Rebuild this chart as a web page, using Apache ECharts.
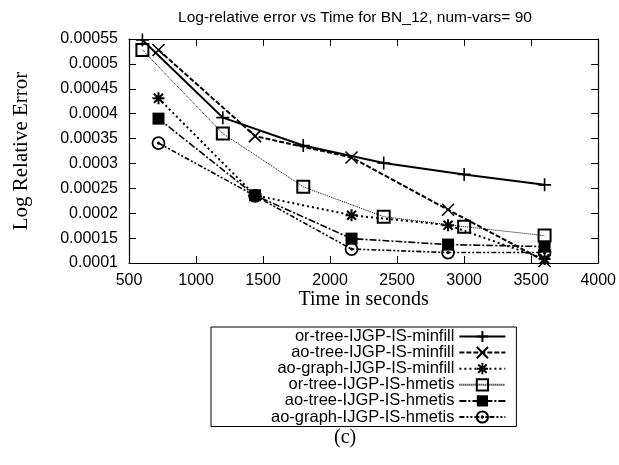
<!DOCTYPE html>
<html>
<head>
<meta charset="utf-8">
<script src="https://cdn.jsdelivr.net/npm/echarts@6/dist/echarts.min.js"></script>
<style>
html,body{margin:0;padding:0;background:#fff;}
#chart{width:619px;height:465px;}
</style>
</head>
<body>
<div id="chart"></div>
<script>
// ---- data ----
const titleText = 'Log-relative error vs Time for BN_12, num-vars= 90';
const seriesNames = [
  'or-tree-IJGP-IS-minfill',
  'ao-tree-IJGP-IS-minfill',
  'ao-graph-IJGP-IS-minfill',
  'or-tree-IJGP-IS-hmetis',
  'ao-tree-IJGP-IS-hmetis',
  'ao-graph-IJGP-IS-hmetis'
];
const timesOr = [600, 1200, 1800, 2400, 3000, 3600];
const timesAo = [720, 1440, 2160, 2880, 3600];
const orTreeMinfill  = [0.000548, 0.000392, 0.000336, 0.000301, 0.000278, 0.000257];
const aoTreeMinfill  = [0.000528, 0.000355, 0.000312, 0.000207, 0.000104];
const aoGraphMinfill = [0.000431, 0.000236, 0.000196, 0.000176, 0.000108];
const orTreeHmetis   = [0.000528, 0.000360, 0.000253, 0.000193, 0.000173, 0.000155];
const aoTreeHmetis   = [0.000390, 0.000236, 0.000149, 0.000137, 0.000133];
const aoGraphHmetis  = [0.000341, 0.000235, 0.000128, 0.000121, 0.000121];
const xTicks = [500, 1000, 1500, 2000, 2500, 3000, 3500, 4000];
const yTicks = ['0.0001','0.00015','0.0002','0.00025','0.0003','0.00035','0.0004','0.00045','0.0005','0.00055'];

function pairs(xs, ys){ return xs.map((x,i)=>[x, ys[i]]); }

const PLUS = 'path://M0,-1L0,1M-1,0L1,0';
const CROSS = 'path://M-1,-1L1,1M-1,1L1,-1';
const STAR = 'path://M0,-1L0,1M-1,0L1,0M-0.75,-0.75L0.75,0.75M-0.75,0.75L0.75,-0.75';
const CIRCDOT = 'path://M1,0A1,1 0 1,1 -1,0A1,1 0 1,1 1,0ZM0.12,0A0.12,0.12 0 1,1 -0.12,0A0.12,0.12 0 1,1 0.12,0Z';

const sansFont = 'Liberation Sans';
const serifFont = 'Liberation Serif';

function mk(name, xs, ys, symbol, size, lineType, lineWidth, itemStyle){
  return {
    name: name,
    type: 'line',
    xAxisIndex: 0, yAxisIndex: 0,
    data: pairs(xs, ys),
    symbol: symbol,
    symbolSize: size,
    showAllSymbol: true,
    animation: false,
    lineStyle: {color: '#000', width: lineWidth, type: lineType},
    itemStyle: itemStyle,
    emphasis: {disabled: true},
    z: 3
  };
}

const strokeOnly = {color: 'rgba(0,0,0,0)', borderColor: '#000', borderWidth: 1.6};

const series = [
  mk(seriesNames[0], timesOr, orTreeMinfill, PLUS, 13, 'solid', 2, strokeOnly),
  mk(seriesNames[1], timesAo, aoTreeMinfill, CROSS, 12, [5, 2], 2, strokeOnly),
  mk(seriesNames[2], timesAo, aoGraphMinfill, STAR, 12, [2, 3], 2, {color:'rgba(0,0,0,0)', borderColor:'#000', borderWidth: 2}),
  mk(seriesNames[3], timesOr, orTreeHmetis, 'rect', 12, [1, 1], 1, {color:'rgba(0,0,0,0)', borderColor:'#000', borderWidth: 2}),
  mk(seriesNames[4], timesAo, aoTreeHmetis, 'rect', 12, [7, 2, 2, 2], 1.6, {color:'#000', borderColor:'#000', borderWidth: 0}),
  mk(seriesNames[5], timesAo, aoGraphHmetis, CIRCDOT, 12, [5, 2, 2, 2, 2, 2], 1.6, {color:'rgba(0,0,0,0)', borderColor:'#000', borderWidth: 1.8})
];

const chart = echarts.init(document.getElementById('chart'), null, {renderer: 'canvas'});
const xMin = xTicks[0], xMax = xTicks[xTicks.length-1];
const yMin = parseFloat(yTicks[0]), yMax = parseFloat(yTicks[yTicks.length-1]);
const yStep = 0.00005;
function fmtY(v){ return String(parseFloat(v.toPrecision(6))); }
function fmtX(v){ return String(Math.round(v)); }

const baseAxisLine = {show: true, lineStyle: {color: '#000', width: 1.2}};
const tick = {show: true, inside: true, length: 7, lineStyle: {color: '#000', width: 1}};

chart.setOption({
  backgroundColor: '#fff',
  animation: false,
  title: {
    text: titleText,
    left: 350, top: 5,
    textAlign: 'center',
    textStyle: {fontFamily: sansFont, fontSize: 15.5, fontWeight: 'normal', color: '#000'}
  },
  grid: {left: 129, right: 19, top: 39, bottom: 202, show: false},
  xAxis: [{
    type: 'value', min: xMin, max: xMax, interval: 500, position: 'bottom',
    axisLine: baseAxisLine, axisTick: tick, splitLine: {show: false},
    axisLabel: {margin: 10, fontFamily: sansFont, fontSize: 16, color: '#000', formatter: fmtX},
    name: 'Time in seconds', nameLocation: 'middle', nameGap: 27,
    nameTextStyle: {fontFamily: serifFont, fontSize: 20, color: '#000'}
  }, {
    type: 'value', min: xMin, max: xMax, interval: 500, position: 'top',
    axisLine: baseAxisLine, axisTick: tick, splitLine: {show: false},
    axisLabel: {show: false}
  }],
  yAxis: [{
    type: 'value', min: yMin, max: yMax, interval: yStep, position: 'left',
    axisLine: baseAxisLine, axisTick: tick, splitLine: {show: false},
    axisLabel: {margin: 11, fontFamily: sansFont, fontSize: 16, color: '#000', formatter: fmtY},
    name: 'Log Relative Error', nameLocation: 'middle', nameGap: 97, nameRotate: 90,
    nameTextStyle: {fontFamily: serifFont, fontSize: 21, color: '#000'}
  }, {
    type: 'value', min: yMin, max: yMax, interval: yStep, position: 'right',
    axisLine: baseAxisLine, axisTick: tick, splitLine: {show: false},
    axisLabel: {show: false}
  }],
  legend: {
    data: seriesNames,
    orient: 'vertical',
    align: 'right',
    left: 211, top: 327,
    padding: [1, 10, 1, 60],
    itemWidth: 46, itemHeight: 14, itemGap: -0.9,
    borderColor: '#000', borderWidth: 1,
    selectedMode: false,
    textStyle: {fontFamily: sansFont, fontSize: 16.5, color: '#000'}
  },
  graphic: [{
    type: 'text', left: 334, top: 428,
    style: {text: '(c)', font: '20px "Liberation Serif"', fill: '#000'}
  }],
  series: series
});
</script>
</body>
</html>
